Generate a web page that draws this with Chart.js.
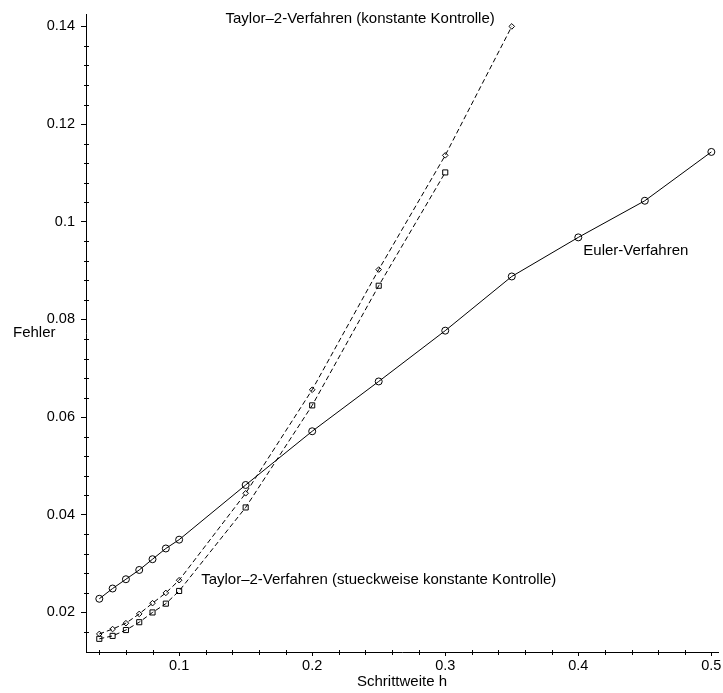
<!DOCTYPE html>
<html>
<head>
<meta charset="utf-8">
<script src="https://cdn.jsdelivr.net/npm/chart.js@4/dist/chart.umd.min.js"></script>
<style>
  html, body { margin: 0; padding: 0; background: #fff; }
  #wrap { width: 723px; height: 693px; position: relative; }
</style>
</head>
<body>
<div id="wrap"><canvas id="c"></canvas></div>
<script>
const FONT = "'Liberation Sans', Arial, Helvetica, sans-serif";

// step sizes and errors
const eulerH = [0.04, 0.05, 0.06, 0.07, 0.08, 0.09, 0.1, 0.15, 0.2, 0.25, 0.3, 0.35, 0.4, 0.45, 0.5];
const eulerErr = [0.0228, 0.0249, 0.0268, 0.0287, 0.0309, 0.0331, 0.0349, 0.0461, 0.0571, 0.0673, 0.0777, 0.0888, 0.0968, 0.1043, 0.1143];

const taylorConstH = [0.04, 0.05, 0.06, 0.07, 0.08, 0.09, 0.1, 0.15, 0.2, 0.25, 0.3, 0.35];
const taylorConstErr = [0.0156, 0.0166, 0.0178, 0.0197, 0.0219, 0.0240, 0.0266, 0.0444, 0.0656, 0.0902, 0.1136, 0.1400];

const taylorPieceH = [0.04, 0.05, 0.06, 0.07, 0.08, 0.09, 0.1, 0.15, 0.2, 0.25, 0.3];
const taylorPieceErr = [0.0146, 0.0152, 0.0164, 0.0180, 0.0200, 0.0218, 0.0244, 0.0415, 0.0624, 0.0869, 0.1101];

const xTicks = [0.1, 0.2, 0.3, 0.4, 0.5];
const xMinor = [0.04, 0.06, 0.08, 0.12, 0.14, 0.16, 0.18, 0.22, 0.24, 0.26, 0.28, 0.32, 0.34, 0.36, 0.38, 0.42, 0.44, 0.46, 0.48];
const yTicks = [0.02, 0.04, 0.06, 0.08, 0.1, 0.12, 0.14];
const yMinor = [0.016, 0.024, 0.028, 0.032, 0.036, 0.044, 0.048, 0.052, 0.056, 0.064, 0.068, 0.072, 0.076,
  0.084, 0.088, 0.092, 0.096, 0.104, 0.108, 0.112, 0.116, 0.124, 0.128, 0.132, 0.136];

const pts = (xs, ys) => xs.map((x, i) => ({ x, y: ys[i] }));

// minor ticks, plot labels and axis captions (Maple-style, horizontal)
const decor = {
  id: 'decor',
  afterDraw(chart) {
    const { ctx, chartArea: a, scales: { x, y } } = chart;
    ctx.save();
    ctx.strokeStyle = '#000';
    ctx.lineWidth = 1;
    ctx.beginPath();
    xMinor.forEach((v) => {
      const px = Math.round(x.getPixelForValue(v)) + 0.5;
      ctx.moveTo(px, a.bottom - 2); ctx.lineTo(px, a.bottom + 3);
    });
    yMinor.forEach((v) => {
      const py = Math.round(y.getPixelForValue(v)) + 0.5;
      ctx.moveTo(a.left - 2, py); ctx.lineTo(a.left + 3, py);
    });
    ctx.stroke();

    ctx.fillStyle = '#000';
    ctx.font = '15px ' + FONT;
    ctx.textBaseline = 'middle';

    const last = taylorConstH.length - 1;
    ctx.textAlign = 'right';
    ctx.fillText('Taylor\u20132-Verfahren (konstante Kontrolle)',
      x.getPixelForValue(taylorConstH[last]) - 17, y.getPixelForValue(taylorConstErr[last]) - 8);

    ctx.textAlign = 'left';
    ctx.fillText('Taylor\u20132-Verfahren (stueckweise konstante Kontrolle)',
      x.getPixelForValue(0.1) + 22, y.getPixelForValue(taylorConstErr[6]));
    ctx.fillText('Euler-Verfahren', x.getPixelForValue(0.4) + 5, y.getPixelForValue(eulerErr[12]) + 13);

    ctx.fillText('Fehler', 13, (a.top + a.bottom) / 2);
    ctx.textAlign = 'center';
    ctx.fillText('Schrittweite h', (a.left + a.right) / 2, 682);
    ctx.restore();
  },
};

const tickFont = { family: FONT, size: 14.5 };
const clear = 'rgba(255,255,255,0)';

new Chart(document.getElementById('c'), {
  type: 'line',
  data: {
    datasets: [
      {
        label: 'Euler-Verfahren',
        data: pts(eulerH, eulerErr),
        borderColor: '#000',
        borderWidth: 1,
        pointStyle: 'circle',
        pointRadius: 3.5,
        pointBorderWidth: 1,
        pointBorderColor: '#000',
        pointBackgroundColor: clear,
      },
      {
        label: 'Taylor-2 konstant',
        data: pts(taylorConstH, taylorConstErr),
        borderColor: '#000',
        borderWidth: 1,
        borderDash: [5, 3],
        pointStyle: 'rectRot',
        pointRadius: 2.8,
        pointBorderWidth: 1,
        pointBorderColor: '#000',
        pointBackgroundColor: clear,
      },
      {
        label: 'Taylor-2 stueckweise',
        data: pts(taylorPieceH, taylorPieceErr),
        borderColor: '#000',
        borderWidth: 1,
        borderDash: [5, 3],
        pointStyle: 'rect',
        pointRadius: 3.6,
        pointBorderWidth: 1,
        pointBorderColor: '#000',
        pointBackgroundColor: clear,
      },
    ],
  },
  options: {
    responsive: true,
    maintainAspectRatio: false,
    animation: false,
    tension: 0,
    layout: { padding: { top: 12, right: 3, left: 0, bottom: 0 } },
    plugins: { legend: { display: false }, tooltip: { enabled: false } },
    scales: {
      x: {
        type: 'linear',
        min: 0.03,
        max: 0.505,
        afterBuildTicks: (s) => { s.ticks = xTicks.map((v) => ({ value: v })); },
        afterFit: (s) => { s.height = 41; },
        border: { display: true, color: '#000', width: 1 },
        grid: { drawOnChartArea: false, drawTicks: true, tickLength: 4, color: '#000' },
        ticks: { color: '#000', font: tickFont, padding: 1, maxRotation: 0, callback: (v) => String(v) },
      },
      y: {
        type: 'linear',
        min: 0.0119,
        max: 0.1424,
        afterBuildTicks: (s) => { s.ticks = yTicks.map((v) => ({ value: v })); },
        afterFit: (s) => { s.width = 86; },
        border: { display: true, color: '#000', width: 1 },
        grid: { drawOnChartArea: false, drawTicks: true, tickLength: 5, color: '#000' },
        ticks: { color: '#000', font: tickFont, padding: 6, callback: (v) => String(v) },
      },
    },
  },
  plugins: [decor],
});
</script>
</body>
</html>
